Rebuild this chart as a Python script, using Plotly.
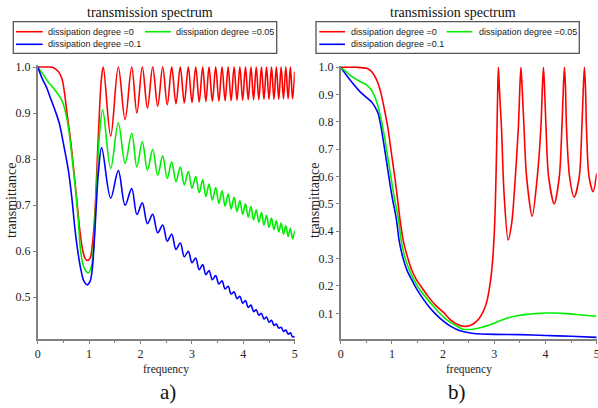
import plotly.graph_objects as go

W, H = 598, 408

# ---------------- panel a) data ----------------
a_red_pre_x = [0, 0.2, 0.3, 0.4, 0.47, 0.52, 0.57, 0.63, 0.68, 0.73, 0.77, 0.82, 0.87, 0.92, 0.97, 1.02, 1.06, 1.10, 1.13, 1.16, 1.20, 1.24, 1.276]
a_red_pre_y = [1.0, 1.0, 0.999, 0.99, 0.975, 0.945, 0.90, 0.85, 0.80, 0.745, 0.70, 0.645, 0.605, 0.585, 0.58, 0.585, 0.61, 0.66, 0.72, 0.80, 0.90, 0.975, 1.0]

a_green_pre_x = [0, 0.1, 0.2, 0.3, 0.4, 0.48, 0.564, 0.62, 0.66, 0.73, 0.79, 0.835, 0.9, 0.985, 1.04, 1.08, 1.12, 1.16, 1.20, 1.265]
a_green_pre_y = [1.0, 0.985, 0.968, 0.955, 0.94, 0.925, 0.89, 0.85, 0.812, 0.74, 0.667, 0.60, 0.565, 0.553, 0.565, 0.60, 0.68, 0.77, 0.85, 0.907]

a_blue_pre_x = [0, 0.1, 0.175, 0.25, 0.337, 0.42, 0.50, 0.596, 0.66, 0.726, 0.78, 0.84, 0.90, 0.965, 1.02, 1.06, 1.10, 1.14, 1.18, 1.245]
a_blue_pre_y = [1.0, 0.972, 0.955, 0.932, 0.906, 0.878, 0.834, 0.776, 0.72, 0.647, 0.60, 0.56, 0.535, 0.527, 0.535, 0.56, 0.62, 0.70, 0.77, 0.825]

# oscillation extrema (after the first maximum)
a_trough_x = [1.42, 1.70, 1.93, 2.135, 2.335, 2.52, 2.69, 2.852, 3.002, 3.142, 3.272, 3.398, 3.525, 3.646, 3.763, 3.877, 3.988, 4.096, 4.2, 4.302, 4.402, 4.5, 4.596, 4.69, 4.782, 4.872, 4.958]
a_peak_x = [1.568, 1.829, 2.035, 2.237, 2.432, 2.607, 2.774, 2.930, 3.074, 3.210, 3.333, 3.463, 3.586, 3.705, 3.821, 3.933, 4.042, 4.149, 4.252, 4.353, 4.452, 4.549, 4.643, 4.736, 4.827, 4.916, 5.0]

a_red_trough = [0.85, 0.886, 0.90, 0.911, 0.915, 0.918, 0.920, 0.922, 0.923, 0.924, 0.925, 0.926, 0.926, 0.927, 0.927, 0.928, 0.928, 0.929, 0.929, 0.929, 0.930, 0.930, 0.930, 0.930, 0.931, 0.931, 0.931]
a_red_peak = [1.0, 1.0, 1.0, 1.0, 1.0, 1.0, 1.0, 1.0, 1.0, 1.0, 1.0, 1.0, 1.0, 1.0, 1.0, 1.0, 1.0, 1.0, 1.0, 1.0, 1.0, 1.0, 1.0, 1.0, 1.0, 1.0, 0.99]

a_green_trough = [0.780, 0.791, 0.783, 0.776, 0.765, 0.758, 0.751, 0.744, 0.737, 0.727, 0.719, 0.711, 0.704, 0.698, 0.692, 0.686, 0.680, 0.674, 0.668, 0.663, 0.657, 0.652, 0.647, 0.642, 0.637, 0.632, 0.627]
a_green_peak = [0.879, 0.856, 0.838, 0.821, 0.807, 0.794, 0.783, 0.773, 0.762, 0.755, 0.746, 0.738, 0.731, 0.724, 0.717, 0.710, 0.703, 0.697, 0.690, 0.684, 0.678, 0.672, 0.666, 0.661, 0.655, 0.650, 0.645]

a_blue_trough = [0.715, 0.700, 0.680, 0.660, 0.640, 0.622, 0.604, 0.588, 0.575, 0.560, 0.549, 0.538, 0.529, 0.518, 0.507, 0.497, 0.487, 0.478, 0.469, 0.461, 0.453, 0.446, 0.439, 0.433, 0.426, 0.420, 0.414]
a_blue_peak = [0.775, 0.736, 0.705, 0.680, 0.657, 0.637, 0.618, 0.600, 0.585, 0.571, 0.558, 0.547, 0.536, 0.524, 0.512, 0.502, 0.493, 0.483, 0.473, 0.465, 0.457, 0.450, 0.442, 0.435, 0.429, 0.423, 0.415]

# ---------------- panel b) data ----------------
b_red_x = [0, 0.3, 0.508, 0.6, 0.70, 0.78, 0.86, 0.92, 0.98, 1.04, 1.09, 1.16, 1.22, 1.29, 1.38, 1.48, 1.6, 1.71, 1.85, 2.0, 2.15, 2.33, 2.45, 2.58, 2.70, 2.78, 2.85, 2.92, 2.97, 3.01, 3.045, 3.065, 3.08, 3.10, 3.14, 3.19, 3.27, 3.34, 3.39, 3.47, 3.50, 3.52, 3.545, 3.58, 3.63, 3.74, 3.84, 3.91, 3.94, 3.96, 3.98, 4.01, 4.06, 4.17, 4.27, 4.32, 4.35, 4.37, 4.39, 4.41, 4.47, 4.56, 4.66, 4.71, 4.74, 4.76, 4.78, 4.80, 4.85, 4.93, 5.0]
b_red_y = [1.0, 1.0, 0.996, 0.985, 0.955, 0.91, 0.84, 0.78, 0.70, 0.62, 0.55, 0.441, 0.368, 0.315, 0.262, 0.222, 0.19, 0.161, 0.13, 0.105, 0.075, 0.055, 0.052, 0.06, 0.08, 0.105, 0.14, 0.21, 0.30, 0.44, 0.70, 0.90, 1.0, 0.92, 0.78, 0.54, 0.368, 0.43, 0.54, 0.78, 0.93, 1.0, 0.92, 0.78, 0.60, 0.455, 0.60, 0.78, 0.93, 1.0, 0.93, 0.78, 0.60, 0.50, 0.60, 0.78, 0.93, 1.0, 0.93, 0.78, 0.60, 0.525, 0.60, 0.78, 0.93, 1.0, 0.93, 0.78, 0.60, 0.545, 0.612]

b_green_x = [0, 0.1, 0.25, 0.4, 0.51, 0.6, 0.66, 0.73, 0.80, 0.86, 0.92, 0.98, 1.04, 1.13, 1.18, 1.26, 1.35, 1.43, 1.55, 1.65, 1.80, 1.93, 2.08, 2.25, 2.39, 2.55, 2.7, 2.85, 3.05, 3.24, 3.45, 3.63, 3.8, 4.02, 4.2, 4.41, 4.7, 5.0]
b_green_y = [1.0, 0.985, 0.962, 0.946, 0.935, 0.917, 0.895, 0.856, 0.80, 0.74, 0.67, 0.60, 0.53, 0.441, 0.368, 0.30, 0.255, 0.222, 0.185, 0.161, 0.128, 0.10, 0.075, 0.055, 0.042, 0.041, 0.046, 0.054, 0.068, 0.082, 0.091, 0.096, 0.099, 0.101, 0.101, 0.099, 0.094, 0.089]

b_blue_x = [0, 0.18, 0.38, 0.5, 0.6, 0.66, 0.73, 0.78, 0.83, 0.90, 0.96, 1.01, 1.09, 1.14, 1.22, 1.30, 1.39, 1.48, 1.58, 1.72, 1.85, 2.0, 2.15, 2.33, 2.5, 2.6, 3.0, 3.5, 4.0, 4.5, 5.0]
b_blue_y = [1.0, 0.954, 0.91, 0.89, 0.874, 0.858, 0.832, 0.79, 0.734, 0.65, 0.575, 0.52, 0.441, 0.368, 0.30, 0.255, 0.222, 0.19, 0.161, 0.125, 0.098, 0.072, 0.052, 0.036, 0.029, 0.026, 0.023, 0.022, 0.019, 0.016, 0.012]

series_names = ["dissipation degree =0", "dissipation degree =0.05", "dissipation degree =0.1"]
series_colors = ["#ff0000", "#00ee00", "#0000ff"]

x_ticks = [0, 1, 2, 3, 4, 5]
a_y_ticks = [0.5, 0.6, 0.7, 0.8, 0.9, 1.0]
b_y_ticks = [0.1, 0.2, 0.3, 0.4, 0.5, 0.6, 0.7, 0.8, 0.9, 1.0]


def interleave(pre_x, pre_y, tx, ty, px_, py_):
    xs, ys = list(pre_x), list(pre_y)
    for i in range(len(tx)):
        xs += [tx[i], px_[i]]
        ys += [ty[i], py_[i]]
    return xs, ys


fig = go.Figure()

a_sets = [
    interleave(a_red_pre_x, a_red_pre_y, a_trough_x, a_red_trough, a_peak_x, a_red_peak),
    interleave(a_green_pre_x, a_green_pre_y, a_trough_x, a_green_trough, a_peak_x, a_green_peak),
    interleave(a_blue_pre_x, a_blue_pre_y, a_trough_x, a_blue_trough, a_peak_x, a_blue_peak),
]
for (xs, ys), c, n in zip(a_sets, series_colors, series_names):
    fig.add_trace(go.Scatter(x=xs, y=ys, mode="lines", name=n,
                             line=dict(color=c, width=1.6, shape="spline", smoothing=1.0),
                             xaxis="x", yaxis="y", showlegend=False))

b_sets = [(b_red_x, b_red_y), (b_green_x, b_green_y), (b_blue_x, b_blue_y)]
for (xs, ys), c, n in reversed(list(zip(b_sets, series_colors, series_names))):
    fig.add_trace(go.Scatter(x=xs, y=ys, mode="lines", name=n,
                             line=dict(color=c, width=1.6, shape="spline", smoothing=0.8),
                             xaxis="x2", yaxis="y2", showlegend=False))

AX = "#808080"
serif = "Liberation Serif"
sans = "Liberation Sans"
tickfont = dict(family=serif, size=12, color="#222")


def xa(domain, anchor):
    return dict(domain=domain, anchor=anchor, range=[0, 5], tickvals=x_ticks,
                showline=True, linecolor=AX, linewidth=1.5, ticks="outside",
                ticklen=3, tickcolor=AX, showgrid=False, zeroline=False,
                tickfont=tickfont, automargin=False, ticklabeloverflow="allow",
                minor=dict(dtick=0.5, ticks="outside", ticklen=2, tickcolor=AX))


def ya(domain, anchor, rng, tv):
    return dict(domain=domain, anchor=anchor, range=rng, tickvals=tv, tickformat=".1f",
                showline=True, linecolor=AX, linewidth=1.5, ticks="outside",
                ticklen=3, tickcolor=AX, showgrid=False, zeroline=False,
                tickfont=tickfont, automargin=False)


fig.update_layout(
    width=W, height=H, margin=dict(l=0, r=0, t=0, b=0, autoexpand=False),
    paper_bgcolor="white", plot_bgcolor="white",
    font=dict(family=serif, size=12, color="#222"),
    xaxis=xa([37.7 / W, 294.7 / W], "y"),
    yaxis=ya([1 - 339.2 / H, 1 - 64.7 / H], "x", [0.409, 1.005], a_y_ticks),
    xaxis2=xa([340.7 / W, 596.7 / W], "y2"),
    yaxis2=ya([1 - 339.0 / H, 1 - 65.9 / H], "x2", [0.006, 1.005], b_y_ticks),
)

ann = []
shapes = []


def px(x):
    return x / W


def py(y):
    return 1 - y / H


panels = [
    dict(title_x=150, yt_x=11, xt_x=166, lab_x=168, lab="a)", box=(13.3, 276.7),
         l1=(16, 42.7), t1=46, l2=(145, 171), t2=174),
    dict(title_x=452.5, yt_x=314, xt_x=469, lab_x=456.5, lab="b)", box=(316, 579.3),
         l1=(319.3, 345), t1=349, l2=(446.7, 472.3), t2=476.7),
]
for p in panels:
    ann.append(dict(x=px(p["title_x"]), y=py(12), xref="paper", yref="paper",
                    text="transmission spectrum", showarrow=False,
                    font=dict(family=serif, size=14, color="#111"),
                    xanchor="center", yanchor="middle"))
    ann.append(dict(x=px(p["yt_x"]), y=py(201), xref="paper", yref="paper",
                    text="transmittance", showarrow=False, textangle=-90,
                    font=dict(family=serif, size=14, color="#222"),
                    xanchor="center", yanchor="middle"))
    ann.append(dict(x=px(p["xt_x"]), y=py(369), xref="paper", yref="paper",
                    text="frequency", showarrow=False,
                    font=dict(family=serif, size=11.5, color="#222"),
                    xanchor="center", yanchor="middle"))
    ann.append(dict(x=px(p["lab_x"]), y=py(392), xref="paper", yref="paper",
                    text=p["lab"], showarrow=False,
                    font=dict(family=serif, size=21, color="#111"),
                    xanchor="center", yanchor="middle"))
    # legend box
    shapes.append(dict(type="rect", xref="paper", yref="paper",
                       x0=px(p["box"][0]), x1=px(p["box"][1]), y0=py(53.3), y1=py(21.7),
                       line=dict(color="#555", width=1.3), fillcolor="white"))
    entries = [(p["l1"], p["t1"], 31.7, 0), (p["l2"], p["t2"], 31.7, 1), (p["l1"], p["t1"], 44.3, 2)]
    for (lx, tx, ly, k) in entries:
        shapes.append(dict(type="line", xref="paper", yref="paper",
                           x0=px(lx[0]), x1=px(lx[1]), y0=py(ly), y1=py(ly),
                           line=dict(color=series_colors[k], width=1.6)))
        ann.append(dict(x=px(tx), y=py(ly), xref="paper", yref="paper",
                        text=series_names[k], showarrow=False,
                        font=dict(family=sans, size=9, color="#222"),
                        xanchor="left", yanchor="middle"))

fig.update_layout(annotations=ann, shapes=shapes)
fig.write_html("out.html", config={"displayModeBar": False},
               post_script="document.body.style.margin='0';document.body.style.padding='0';document.body.style.overflow='hidden';")
